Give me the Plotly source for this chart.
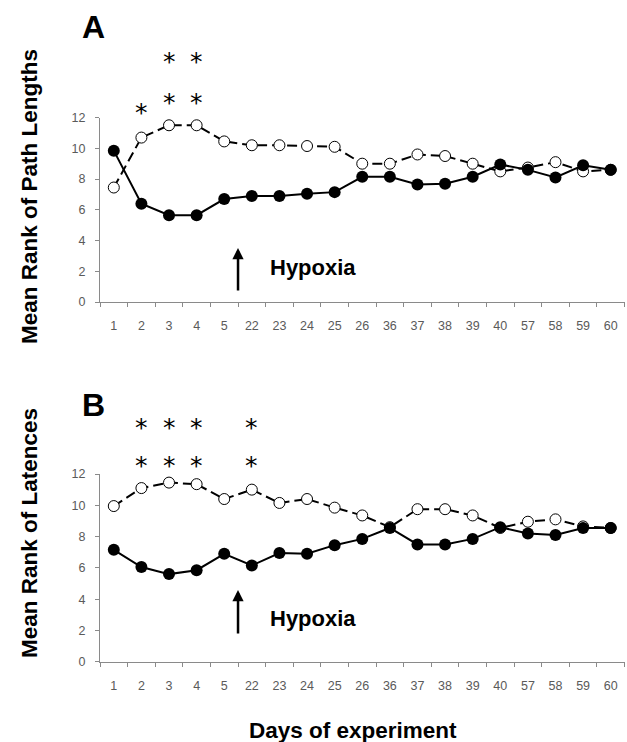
import plotly.graph_objects as go

days = ["1", "2", "3", "4", "5", "22", "23", "24", "25", "26",
        "36", "37", "38", "39", "40", "57", "58", "59", "60"]

# Panel A: mean rank of path lengths
path_open = [7.45, 10.7, 11.5, 11.5, 10.45, 10.2, 10.2, 10.15, 10.1, 9.0,
             9.0, 9.6, 9.5, 9.0, 8.5, 8.75, 9.1, 8.5, 8.6]
path_filled = [9.85, 6.4, 5.65, 5.65, 6.7, 6.9, 6.9, 7.05, 7.15, 8.15,
               8.15, 7.65, 7.7, 8.15, 8.95, 8.6, 8.1, 8.9, 8.6]

# Panel B: mean rank of latencies
lat_open = [9.95, 11.1, 11.45, 11.35, 10.4, 11.0, 10.15, 10.4, 9.85, 9.35,
            8.6, 9.75, 9.75, 9.35, 8.55, 8.95, 9.1, 8.65, 8.55]
lat_filled = [7.15, 6.05, 5.6, 5.85, 6.9, 6.15, 6.95, 6.9, 7.45, 7.85,
              8.55, 7.5, 7.5, 7.85, 8.6, 8.2, 8.1, 8.55, 8.55]

# significance asterisks (day, row height in rank units)
stars_a_days = ["2", "3", "4", "3", "4"]
stars_a_y = [12.35, 13.0, 13.0, 15.65, 15.65]
stars_b_days = ["2", "3", "4", "22", "2", "3", "4", "22"]
stars_b_y = [12.55, 12.55, 12.55, 12.55, 15.0, 15.0, 15.0, 15.0]

Y_MAX = 12
W, H = 627, 742
AX_GRAY = "#8a8a8a"
TICK_FONT = dict(family="Liberation Sans", size=12.5, color="#5a5a5a")
BOLD = "Liberation Sans"

fig = go.Figure()

def add_panel(xa, ya, open_vals, filled_vals):
    fig.add_trace(go.Scatter(
        x=days, y=open_vals, xaxis=xa, yaxis=ya, mode="lines+markers",
        line=dict(color="black", width=2, dash="10px,5px"),
        marker=dict(symbol="circle", size=11, color="white",
                    line=dict(color="black", width=1)),
        cliponaxis=False, showlegend=False))
    fig.add_trace(go.Scatter(
        x=days, y=filled_vals, xaxis=xa, yaxis=ya, mode="lines+markers",
        line=dict(color="black", width=2),
        marker=dict(symbol="circle", size=12, color="black"),
        cliponaxis=False, showlegend=False))

add_panel("x", "y", path_open, path_filled)
add_panel("x2", "y2", lat_open, lat_filled)

xdom = [100 / W, 624.5 / W]
ydomA = [1 - 302 / H, 1 - 117.6 / H]
ydomB = [1 - 661.7 / H, 1 - 474 / H]

xcommon = dict(domain=xdom, type="category", categoryorder="array",
               categoryarray=days, range=[-0.5, 18.5], showline=True,
               linecolor=AX_GRAY, linewidth=1, ticks="outside",
               tickson="boundaries", ticklen=4, tickcolor=AX_GRAY,
               tickfont=TICK_FONT, showgrid=False, zeroline=False,
               ticklabelstandoff=12, fixedrange=True, automargin=False)
ycommon = dict(range=[0, Y_MAX], dtick=2, showline=True, linecolor=AX_GRAY,
               linewidth=1, ticks="outside", ticklen=4, tickcolor=AX_GRAY,
               tickfont=TICK_FONT, showgrid=False, zeroline=False,
               ticklabelstandoff=7, fixedrange=True, automargin=False)

fig.update_layout(
    width=W, height=H, margin=dict(l=0, r=0, t=0, b=0, autoexpand=False),
    paper_bgcolor="white", plot_bgcolor="white",
    xaxis=dict(xcommon, anchor="y"),
    yaxis=dict(ycommon, domain=ydomA, anchor="x"),
    xaxis2=dict(xcommon, anchor="y2"),
    yaxis2=dict(ycommon, domain=ydomB, anchor="x2"),
)

ann = []
# asterisks: x on the category axis, y on the axis scale (domain fraction of 0..Y_MAX)
for xr, yr, sd, sy in (("x", "y domain", stars_a_days, stars_a_y),
                       ("x2", "y2 domain", stars_b_days, stars_b_y)):
    for d, v in zip(sd, sy):
        ann.append(dict(text="*", x=days.index(d), y=v / Y_MAX, xref=xr, yref=yr,
                        showarrow=False, xanchor="center", yanchor="middle",
                        font=dict(family="DejaVu Sans", size=25, color="black")))

def lab(text, x, y, size, angle=0, xanchor="center"):
    ann.append(dict(text=text, x=x / W, y=1 - y / H, xref="paper", yref="paper",
                    showarrow=False, xanchor=xanchor, yanchor="middle",
                    textangle=angle, font=dict(family=BOLD, size=size, color="black")))

lab("<b>A</b>", 93, 27, 32)
lab("<b>B</b>", 94, 405, 32)
lab("<b>Mean Rank of Path Lengths</b>", 29, 197, 22.5, -90)
lab("<b>Mean Rank of Latences</b>", 29, 533, 22.5, -90)
lab("<b>Days of experiment</b>", 353, 730, 22.5)

# Hypoxia arrows + labels (between day 5 and day 22)
for xr, tip_y, tail_len, txt_y in (("x", 248, 44, 267), ("x2", 590, 45, 618)):
    ann.append(dict(text="", x=4.5, xref=xr, y=1 - tip_y / H, yref="paper",
                    ax=0, ay=tail_len, showarrow=True, arrowhead=2, arrowsize=0.9,
                    arrowwidth=2.5, arrowcolor="black"))
    lab("<b>Hypoxia</b>", 268, txt_y, 22, xanchor="left")

fig.update_layout(annotations=ann)
fig.write_html("out.html", config={"displayModeBar": False},
               post_script="document.body.style.margin='0';")
